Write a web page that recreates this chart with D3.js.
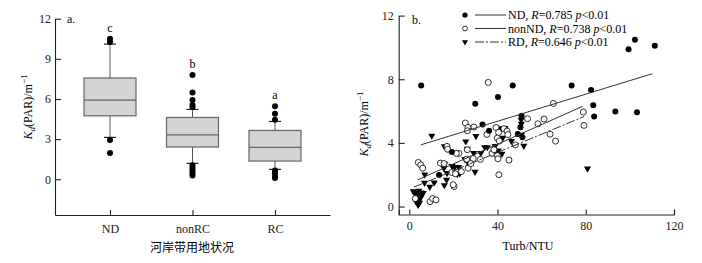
<!DOCTYPE html>
<html>
<head>
<meta charset="utf-8">
<script src="https://cdn.jsdelivr.net/npm/d3@7"></script>
<style>
  body { margin: 0; background: #fff; }
  svg { display: block; font-family: "Liberation Serif", "Times New Roman", serif; }
  .axis path, .axis line { stroke: #222; stroke-width: 1.1; }
  .axis text { font-size: 12px; fill: #222; font-family: "Liberation Serif", serif; }
</style>
</head>
<body>
<div id="chart"></div>
<script>
// ---- panel a: box plots ----
var categories = ["ND", "nonRC", "RC"];
var whiskerLow = [3.13, 1.19, 0.74];
var q1 = [4.74, 2.41, 1.36];
var median = [5.91, 3.32, 2.38];
var q3 = [7.57, 4.62, 3.65];
var whiskerHigh = [10.1, 5.22, 4.32];
var outliers = [
  [10.5, 10.25, 2.93, 1.97],
  [7.8, 6.48, 5.93, 5.55, 5.4, 1.05, 0.85, 0.65, 0.45, 0.28],
  [5.45, 4.9, 4.45, 0.65, 0.45, 0.2, 0.1]
];
var sigLetters = ["c", "b", "a"];
var yTicksA = [0, 3, 6, 9, 12];

// ---- panel b: scatter ----
var ndX = [5.4, 29.9, 40.2, 46.9, 73.6, 82.4, 83.4, 83.8, 93.4, 103.2, 99.4, 102.3, 111.3, 33.2, 36.2, 50.9, 50.4, 49.2, 51.3, 19.3, 13.5];
var ndY = [7.6, 6.46, 6.88, 7.6, 7.6, 7.32, 6.36, 5.66, 5.98, 5.92, 9.88, 10.49, 10.11, 5.16, 4.76, 5.7, 4.98, 4.56, 4.35, 3.42, 1.98];

var nonX = [35.8, 65.3, 78.9, 79.2, 61.1, 58.3, 53.6, 63.8, 66.3, 48.1, 45.2, 40.6,
  25.4, 26.6, 26.3, 29.3, 35.2, 39.3, 40.5, 42.9, 44.3, 44.7, 39.9, 40.8,
  26.3, 22.5, 21.3, 17.1, 17.4, 26.0, 29.0, 32.2, 37.5, 38.4, 39.9, 40.2, 26.7, 27.9,
  14.1, 15.8, 19.2, 20.9, 20.3, 23.6, 4.1, 5.2, 6.1, 9.4, 10.6, 12.1, 2.7, 19.9];
var nonY = [7.8, 6.48, 5.94, 5.1, 5.5, 5.2, 5.52, 4.55, 4.11, 3.87, 2.92, 2.0,
  5.25, 4.97, 4.76, 5.0, 4.53, 4.97, 4.66, 4.89, 4.74, 4.52, 4.3, 4.12,
  3.57, 3.34, 3.34, 3.78, 3.6, 2.98, 3.02, 2.96, 3.34, 3.57, 3.2, 3.0, 2.41, 2.7,
  2.73, 2.7, 2.14, 2.06, 1.26, 2.2, 2.77, 2.62, 2.41, 0.31, 0.5, 0.42, 0.5, 1.37];

var rdX = [10.2, 25.6, 30.2, 15.9, 16.8, 38.9, 34.2, 42.4, 50.8, 50.7, 50.8, 51.9, 46.3, 41.7, 43.4, 80.8,
  38.8, 40.3, 42.0, 26.3, 29.2, 32.4, 35.4, 25.2, 26.9, 29.8, 22.4, 22.9, 21.8, 20.6, 19.4,
  16.0, 15.7, 17.1, 16.9, 15.9, 7.0, 6.9, 9.3, 11.3,
  1.8, 3.7, 4.3, 5.3, 6.3, 3.1, 4.0, 4.9, 5.5, 2.6, 4.6];
var rdY = [4.45, 4.09, 4.43, 3.78, 3.67, 3.8, 3.73, 4.32, 4.51, 5.45, 5.2, 3.82, 4.11, 4.91, 4.93, 2.39,
  3.4, 3.52, 3.31, 3.63, 3.36, 3.36, 3.73, 2.98, 2.69, 2.18, 2.48, 2.08, 2.03, 2.48, 2.54,
  2.69, 2.41, 2.1, 1.68, 1.34, 2.01, 1.49, 1.24, 1.51,
  0.96, 0.71, 0.99, 0.88, 0.84, 0.31, 0.1, 0.5, 0.67, 0.84, 0.23];

// fitted lines: [x0, y0, x1, y1] in data units
var fitND = [5.3, 3.88, 110.2, 8.35];
var fitNon = [3.8, 1.68, 78.6, 6.3];
var fitRD = [2.1, 1.22, 79.3, 5.66];
var legendLabels = [
  ["ND, ", "R", "=0.785 ", "p", "<0.01"],
  ["nonND, ", "R", "=0.738 ", "p", "<0.01"],
  ["RD, ", "R", "=0.646 ", "p", "<0.01"]
];
var yTicksB = [0, 4, 8, 12];
var xTicksB = [0, 40, 80, 120];

var width = 702, height = 263;
var svg = d3.select("#chart").append("svg").attr("width", width).attr("height", height);

// ===== panel a =====
var xA = d3.scalePoint().domain(categories).range([55, 330]).padding(0.667);
var yA = d3.scaleLinear().domain([-2.67, 12]).range([215, 18.7]);

svg.append("g").attr("class", "axis")
  .attr("transform", "translate(55,0)")
  .call(d3.axisLeft(yA).tickValues(yTicksA).tickSizeInner(-6).tickSizeOuter(0).tickPadding(4));
svg.append("g").attr("class", "axis")
  .attr("transform", "translate(0,215)")
  .call(d3.axisBottom(xA).tickSizeInner(-5).tickSizeOuter(0).tickPadding(9));

var boxW = 52;
var boxes = svg.append("g").selectAll("g").data(categories).enter().append("g");

boxes.append("line")
  .attr("x1", d => xA(d)).attr("x2", d => xA(d))
  .attr("y1", (d, i) => yA(whiskerLow[i])).attr("y2", (d, i) => yA(whiskerHigh[i]))
  .attr("stroke", "#555").attr("stroke-width", 1);
[whiskerLow, whiskerHigh].forEach(function(w) {
  boxes.append("line")
    .attr("x1", d => xA(d) - 6).attr("x2", d => xA(d) + 6)
    .attr("y1", (d, i) => yA(w[i])).attr("y2", (d, i) => yA(w[i]))
    .attr("stroke", "#222").attr("stroke-width", 1.2);
});
boxes.append("rect")
  .attr("x", d => xA(d) - boxW / 2).attr("width", boxW)
  .attr("y", (d, i) => yA(q3[i])).attr("height", (d, i) => yA(q1[i]) - yA(q3[i]))
  .attr("fill", "#d3d3d3").attr("stroke", "#666").attr("stroke-width", 1.2);
boxes.append("line")
  .attr("x1", d => xA(d) - boxW / 2).attr("x2", d => xA(d) + boxW / 2)
  .attr("y1", (d, i) => yA(median[i])).attr("y2", (d, i) => yA(median[i]))
  .attr("stroke", "#666").attr("stroke-width", 1.2);
boxes.each(function(d, i) {
  d3.select(this).selectAll("circle").data(outliers[i]).enter().append("circle")
    .attr("cx", xA(d)).attr("cy", v => yA(v)).attr("r", 3).attr("fill", "#000");
});
boxes.append("text")
  .attr("x", d => xA(d))
  .attr("y", (d, i) => yA(d3.max(outliers[i])) - 7)
  .attr("text-anchor", "middle").style("font-size", "12px")
  .text((d, i) => sigLetters[i]);

svg.append("text").attr("x", 67).attr("y", 23).style("font-size", "12px").text("a.");
svg.append("text").attr("x", 192).attr("y", 252).attr("text-anchor", "middle")
  .style("font-size", "12px").style("font-family", "'Noto Sans CJK SC', sans-serif")
  .text("河岸带用地状况");

function yTitle(x, y) {
  var t = svg.append("text").attr("text-anchor", "middle")
    .attr("transform", "translate(" + x + "," + y + ")rotate(-90)")
    .style("font-size", "12px");
  t.append("tspan").style("font-style", "italic").text("K");
  t.append("tspan").attr("dy", 3).style("font-size", "9px").style("font-style", "italic").text("d");
  t.append("tspan").attr("dy", -3).text("(PAR)/m");
  t.append("tspan").attr("dy", -5).style("font-size", "9px").text("\u22121");
}
yTitle(32, 107);

// ===== panel b =====
var xB = d3.scaleLinear().domain([-4.8, 120]).range([398.7, 674]);
var yB = d3.scaleLinear().domain([-0.5, 12]).range([214.5, 15.6]);

svg.append("g").attr("class", "axis")
  .attr("transform", "translate(398.7,0)")
  .call(d3.axisLeft(yB).tickValues(yTicksB).tickSizeInner(-6).tickSizeOuter(0).tickPadding(5));
svg.append("g").attr("class", "axis")
  .attr("transform", "translate(0,214.5)")
  .call(d3.axisBottom(xB).tickValues(xTicksB).tickSizeInner(-5).tickSizeOuter(-5).tickPadding(7));

var pts = svg.append("g");
var tri = d3.symbol().type(d3.symbolTriangle).size(22);
pts.selectAll(".rd").data(rdX).enter().append("path")
  .attr("d", tri)
  .attr("transform", (d, i) => "translate(" + xB(d) + "," + yB(rdY[i]) + ")rotate(180)")
  .attr("fill", "#000");
pts.selectAll(".non").data(nonX).enter().append("circle")
  .attr("cx", d => xB(d)).attr("cy", (d, i) => yB(nonY[i])).attr("r", 3)
  .attr("fill", "#fff").attr("stroke", "#000").attr("stroke-width", 0.8);
pts.selectAll(".nd").data(ndX).enter().append("circle")
  .attr("cx", d => xB(d)).attr("cy", (d, i) => yB(ndY[i])).attr("r", 3)
  .attr("fill", "#000");

var fits = [fitND, fitNon, fitRD];
var dashes = [null, null, "9,2,2,2"];
svg.append("g").selectAll("line").data(fits).enter().append("line")
  .attr("x1", d => xB(d[0])).attr("y1", d => yB(d[1]))
  .attr("x2", d => xB(d[2])).attr("y2", d => yB(d[3]))
  .attr("stroke", "#333").attr("stroke-width", 1)
  .attr("stroke-dasharray", (d, i) => dashes[i]);

svg.append("text").attr("x", 412).attr("y", 24).style("font-size", "12px").text("b.");

// legend
var legY = [15, 28.5, 42];
var leg = svg.append("g");
legendLabels.forEach(function(lbl, i) {
  var y = legY[i];
  if (i === 0) leg.append("circle").attr("cx", 465).attr("cy", y).attr("r", 2.6).attr("fill", "#000");
  if (i === 1) leg.append("circle").attr("cx", 465).attr("cy", y).attr("r", 2.4).attr("fill", "#fff").attr("stroke", "#000").attr("stroke-width", 0.8);
  if (i === 2) leg.append("path").attr("d", d3.symbol().type(d3.symbolTriangle).size(16))
    .attr("transform", "translate(465," + y + ")rotate(180)").attr("fill", "#000");
  leg.append("line").attr("x1", 475).attr("x2", 506).attr("y1", y).attr("y2", y)
    .attr("stroke", "#333").attr("stroke-width", 1).attr("stroke-dasharray", dashes[i]);
  var t = leg.append("text").attr("x", 508).attr("y", y + 4).style("font-size", "12px");
  lbl.forEach(function(s, k) {
    t.append("tspan").style("font-style", (k === 1 || k === 3) ? "italic" : "normal").text(s);
  });
});

svg.append("text").attr("x", 528).attr("y", 250).attr("text-anchor", "middle")
  .style("font-size", "12px").text("Turb/NTU");
yTitle(368, 124);
</script>
</body>
</html>
